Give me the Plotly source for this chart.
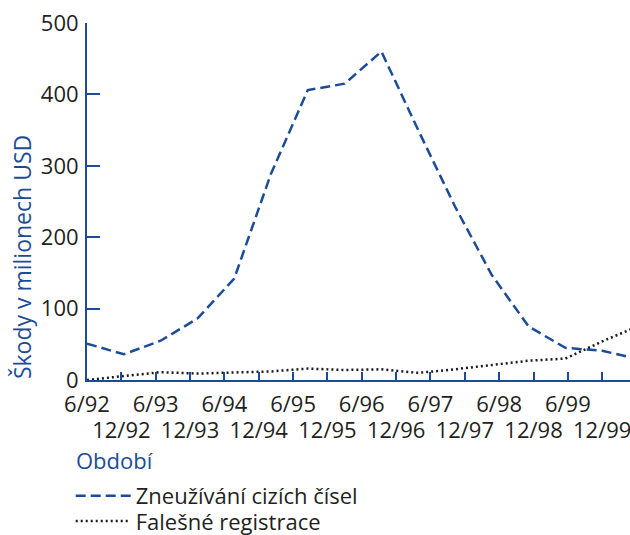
import plotly.graph_objects as go

# Data
period_index = list(range(16))
zneuzivani = [51, 36, 55, 86, 142, 289, 406, 415, 460, 350, 243, 147, 75, 45, 41, 29]
falesne = [0, 5, 11, 9, 11, 12, 16, 14, 15, 10, 15, 21, 27, 30, 54, 76]
tick_labels = ["6/92", "12/92", "6/93", "12/93", "6/94", "12/94", "6/95", "12/95",
               "6/96", "12/96", "6/97", "12/97", "6/98", "12/98", "6/99", "12/99"]
y_ticks = [0, 100, 200, 300, 400, 500]

BLUE = "#1c4c96"
DARK = "#231f20"
FONT = "Open Sans"
FS = 22

n_ticks = len(tick_labels)
tick_pos = [k * 14 / 15 for k in range(n_ticks)]
xr = [0, 14.755]

fig = go.Figure()
fig.add_trace(go.Scatter(
    x=period_index, y=zneuzivani, mode="lines", name="Zneužívání cizích čísel",
    line=dict(color=BLUE, width=2.5, dash="10px,5px"), legend="legend",
))
fig.add_trace(go.Scatter(
    x=period_index, y=falesne, mode="lines", name="Falešné registrace",
    line=dict(color="#1a1a1a", width=2.5, dash="2px,3px"), legend="legend2",
))
# helper trace to register the second (label) x axis
fig.add_trace(go.Scatter(x=[None], y=[None], xaxis="x2", showlegend=False, hoverinfo="skip"))

legend_common = dict(
    x=-0.03, xanchor="left", yanchor="top",
    font=dict(size=22, color=DARK, family=FONT),
    bgcolor="rgba(0,0,0,0)", itemwidth=55, tracegroupgap=0,
)

fig.update_layout(
    width=630, height=535,
    margin=dict(l=87, r=0, t=23, b=155, pad=0, autoexpand=False),
    paper_bgcolor="white", plot_bgcolor="white",
    font=dict(family=FONT, color=DARK, size=FS),
    xaxis=dict(
        range=xr, showgrid=False, zeroline=False,
        showline=True, linecolor=BLUE, linewidth=2,
        ticks="inside", ticklen=8, tickwidth=2, tickcolor=BLUE,
        tickmode="array", tickvals=tick_pos,
        ticktext=[t if i % 2 == 0 else "" for i, t in enumerate(tick_labels)],
        tickfont=dict(size=FS, color=DARK, family=FONT),
        ticklabelstandoff=4, ticklabeloverflow="allow",
    ),
    xaxis2=dict(
        range=xr, overlaying="x", anchor="y", side="bottom",
        showgrid=False, zeroline=False, showline=False, ticks="",
        tickmode="array", tickvals=[p for i, p in enumerate(tick_pos) if i % 2 == 1],
        ticktext=[t for i, t in enumerate(tick_labels) if i % 2 == 1],
        tickfont=dict(size=FS, color=DARK, family=FONT),
        ticklabelstandoff=35, ticklabeloverflow="allow",
    ),
    yaxis=dict(
        range=[0, 500], showgrid=False, zeroline=False,
        showline=True, linecolor=BLUE, linewidth=2,
        ticks="inside", ticklen=13, tickwidth=2, tickcolor=BLUE,
        tickmode="array", tickvals=y_ticks,
        tickfont=dict(size=FS, color=DARK, family=FONT),
        ticklabelstandoff=2,
    ),
    legend=dict(legend_common, y=-0.266),
    legend2=dict(legend_common, y=-0.337),
    annotations=[
        dict(text="Škody v milionech USD", textangle=-90, xref="paper", yref="paper",
             x=(22 - 87) / 543, y=(380 - 257) / 357.3, xanchor="center", yanchor="middle",
             showarrow=False, font=dict(size=23, color=BLUE, family=FONT)),
        dict(text="Období", xref="paper", yref="paper",
             x=(74 - 87) / 543, y=(380 - 460) / 357.3, xanchor="left", yanchor="middle",
             showarrow=False, font=dict(size=FS, color=BLUE, family=FONT)),
    ],
)

fig.write_html("out.html", config={"displayModeBar": False},
               post_script="document.body.style.margin='0px';")
